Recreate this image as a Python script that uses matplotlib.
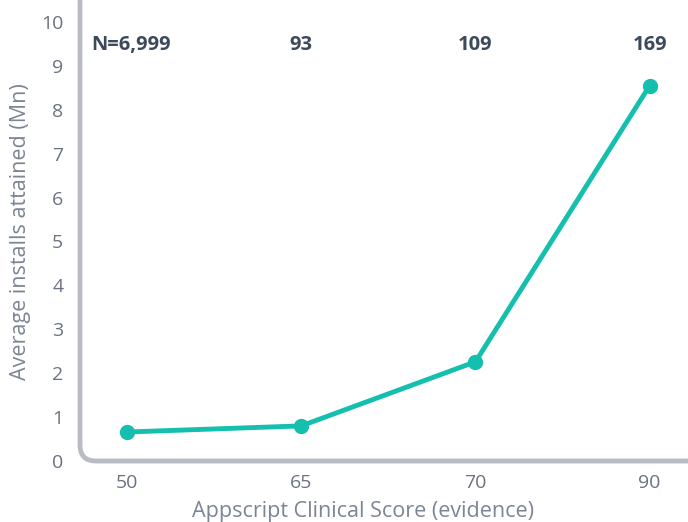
import matplotlib
matplotlib.use("Agg")
import matplotlib.pyplot as plt
from matplotlib.path import Path
from matplotlib.patches import PathPatch

# Data
scores = ["50", "65", "70", "90"]
avg_installs = [0.66, 0.80, 2.26, 8.55]
counts = ["N=6,999", "93", "109", "169"]
y_ticks = list(range(0, 11))

plt.rcParams["font.family"] = ["Open Sans", "DejaVu Sans"]

line_color = "#14bfae"
spine_color = "#b9bdc3"
tick_color = "#6b7280"
label_color = "#7c8593"
count_color = "#3d4a5c"

fig = plt.figure(figsize=(6.88, 5.22), dpi=100)
ax = fig.add_axes([80 / 688, 61 / 522, 608 / 688, 461 / 522])

x = list(range(len(scores)))
ax.plot(x, avg_installs, color=line_color, lw=3.5, marker="o", ms=10,
        solid_capstyle="round", zorder=3, clip_on=False)

for xi, c in zip(x, counts):
    dx = 3 if c.startswith("N=") else 0
    ax.annotate(c, (xi, 9.48), xytext=(dx, 0), textcoords="offset points",
                ha="center", va="center", fontsize=14.5,
                fontweight="bold", color=count_color)

ax.set_xlim(-0.27, 3.22)
ax.set_ylim(0, 10.5)
ax.set_xticks(x)
ax.set_xticklabels(scores)
ax.set_yticks(y_ticks)
ax.tick_params(axis="both", length=0, labelsize=14, colors=tick_color)
ax.tick_params(axis="x", pad=9)
ax.tick_params(axis="y", pad=12)

ax.set_xlabel("Appscript Clinical Score (evidence)", fontsize=15.5,
              color=label_color)
ax.set_ylabel("Average installs attained (Mn)", fontsize=15.5,
              color=label_color)
ax.xaxis.set_label_coords((363 - 80) / 608, -(512 - 461) / 461)
ax.xaxis.label.set_va("center")
ax.yaxis.set_label_coords(-(80 - 21) / 608, (461 - 232) / 461)
ax.yaxis.label.set_va("center")

for s in ax.spines.values():
    s.set_visible(False)

# L-shaped axis line with a rounded corner
r = 16
rx, ry = r / 608, r / 461
verts = [(0, 1), (0, ry), (0, 0), (rx, 0), (1, 0)]
codes = [Path.MOVETO, Path.LINETO, Path.CURVE3, Path.CURVE3, Path.LINETO]
axis_path = PathPatch(Path(verts, codes), transform=ax.transAxes,
                      facecolor="none", edgecolor=spine_color, lw=3.5,
                      clip_on=False, zorder=2)
ax.add_patch(axis_path)

fig.savefig("out.png", dpi=100)
